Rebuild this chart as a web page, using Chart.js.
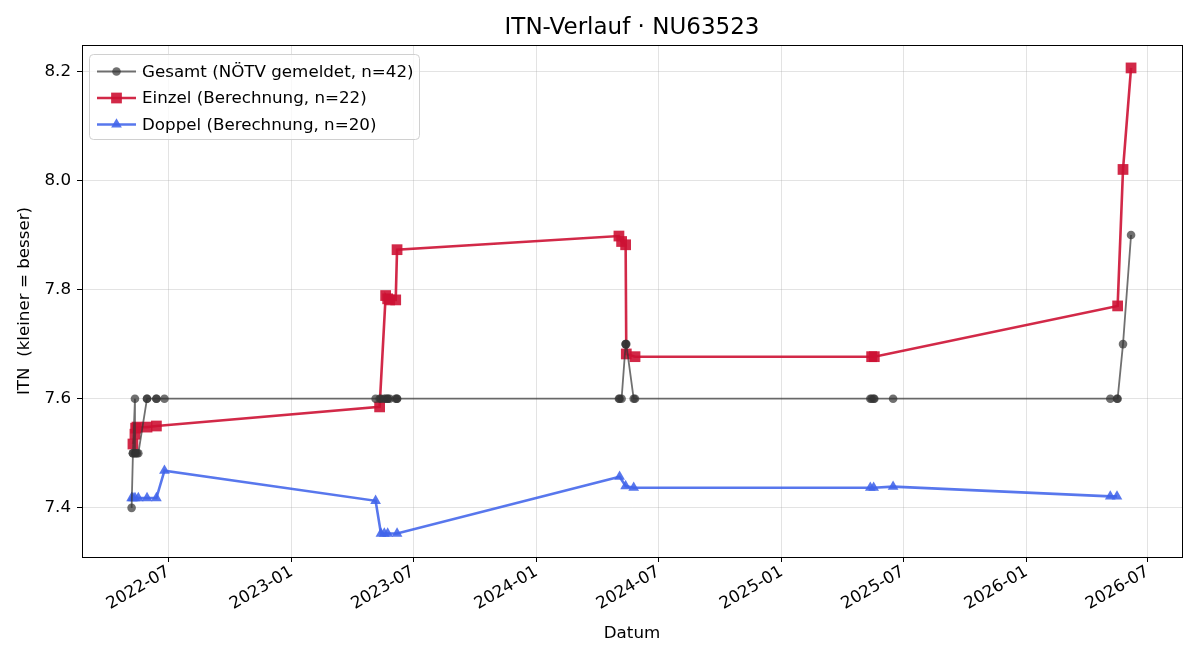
<!DOCTYPE html>
<html>
<head>
<meta charset="utf-8">
<script src="https://cdn.jsdelivr.net/npm/chart.js@4/dist/chart.umd.min.js"></script>
<style>
  html, body { margin: 0; padding: 0; background: #fff; }
  #wrap { width: 1200px; height: 660px; }
</style>
</head>
<body>
<div id="wrap"><canvas id="itnChart" width="1200" height="660"></canvas></div>
<script>
const chartTitle = "ITN-Verlauf · NU63523";

// Gesamt (NÖTV gemeldet)
const gesamtDates = [
    "2022-05-07", "2022-05-09", "2022-05-09", "2022-05-12", "2022-05-12", "2022-05-13", "2022-05-15",
    "2022-05-17", "2022-05-30", "2022-05-30", "2022-06-13", "2022-06-13", "2022-06-25",
    "2023-05-06", "2023-05-12", "2023-05-14", "2023-05-19", "2023-05-21", "2023-05-24", "2023-05-24",
    "2023-05-27", "2023-06-05", "2023-06-07", "2023-06-07",
    "2024-05-03", "2024-05-04", "2024-05-07", "2024-05-13", "2024-05-13", "2024-05-14", "2024-05-25", "2024-05-27",
    "2025-05-13", "2025-05-15", "2025-05-18", "2025-05-19", "2025-06-16",
    "2026-05-06", "2026-05-16", "2026-05-17", "2026-05-25", "2026-06-06"
];
const gesamtValues = [
    7.4, 7.5, 7.5, 7.6, 7.5, 7.5, 7.5,
    7.5, 7.6, 7.6, 7.6, 7.6, 7.6,
    7.6, 7.6, 7.6, 7.6, 7.6, 7.6, 7.6,
    7.6, 7.6, 7.6, 7.6,
    7.6, 7.6, 7.6, 7.7, 7.7, 7.7, 7.6, 7.6,
    7.6, 7.6, 7.6, 7.6, 7.6,
    7.6, 7.6, 7.6, 7.7, 7.9
];

// Einzel (Berechnung)
const einzelDates = [
    "2022-05-09", "2022-05-12", "2022-05-13", "2022-05-15", "2022-05-30", "2022-06-13",
    "2023-05-12", "2023-05-21", "2023-05-24", "2023-05-27", "2023-06-05", "2023-06-07",
    "2024-05-03", "2024-05-07", "2024-05-13", "2024-05-14", "2024-05-27",
    "2025-05-15", "2025-05-19",
    "2026-05-17", "2026-05-25", "2026-06-06"
];
const einzelValues = [
    7.517, 7.535, 7.546, 7.548, 7.548, 7.550,
    7.585, 7.789, 7.783, 7.781, 7.781, 7.873,
    7.898, 7.888, 7.882, 7.682, 7.677,
    7.677, 7.677,
    7.770, 8.020, 8.206
];

// Doppel (Berechnung)
const doppelDates = [
    "2022-05-07", "2022-05-09", "2022-05-12", "2022-05-17", "2022-05-30", "2022-06-13", "2022-06-25",
    "2023-05-06", "2023-05-14", "2023-05-19", "2023-05-24", "2023-06-07",
    "2024-05-04", "2024-05-13", "2024-05-25",
    "2025-05-13", "2025-05-18", "2025-06-16",
    "2026-05-06", "2026-05-16"
];
const doppelValues = [
    7.418, 7.418, 7.418, 7.418, 7.418, 7.418, 7.468,
    7.413, 7.353, 7.353, 7.353, 7.353,
    7.457, 7.440, 7.437,
    7.437, 7.437, 7.439,
    7.421, 7.421
];

const xTickLabels = ["2022-07", "2023-01", "2023-07", "2024-01", "2024-07", "2025-01", "2025-07", "2026-01", "2026-07"];
const yTickValues = [7.4, 7.6, 7.8, 8.0, 8.2];
const xRange = ["2022-02-22", "2026-08-21"];
const yRange = [7.31, 8.248];

const legendLabels = ["Gesamt (NÖTV gemeldet, n=42)", "Einzel (Berechnung, n=22)", "Doppel (Berechnung, n=20)"];

const FONT = "'DejaVu Sans', sans-serif";
const GRAY = "rgba(51,51,51,0.7)";
const RED = "rgba(205,18,52,0.9)";
const BLUE = "rgba(65,100,235,0.88)";

function toMs(d) {
    const p = d.split("-").map(Number);
    return Date.UTC(p[0], p[1] - 1, p[2] || 1);
}
function fmtMonth(ms) {
    const d = new Date(ms);
    return d.getUTCFullYear() + "-" + String(d.getUTCMonth() + 1).padStart(2, "0");
}
function toPoints(dates, values) {
    return dates.map((d, i) => ({ x: toMs(d), y: values[i] }));
}

const series = [
    { label: legendLabels[0], data: toPoints(gesamtDates, gesamtValues), color: GRAY, width: 1.8, style: "circle", radius: 4.3 },
    { label: legendLabels[1], data: toPoints(einzelDates, einzelValues), color: RED, width: 2.6, style: "rect", radius: 7.6 },
    { label: legendLabels[2], data: toPoints(doppelDates, doppelValues), color: BLUE, width: 2.6, style: "triangle", radius: 6.2 }
];

// title over the plot area, frame around it, legend box in upper left
const framePlugin = {
    id: "frame",
    afterDraw(chart) {
        const ctx = chart.ctx;
        const a = chart.chartArea;
        ctx.save();
        ctx.fillStyle = "#000";
        ctx.font = "23px " + FONT;
        ctx.textAlign = "center";
        ctx.textBaseline = "middle";
        ctx.fillText(chartTitle, (a.left + a.right) / 2, 28);
        ctx.textAlign = "left";

        ctx.strokeStyle = "#000";
        ctx.lineWidth = 1;
        ctx.strokeRect(Math.round(a.left) + 0.5, Math.round(a.top) + 0.5, Math.round(a.right - a.left), Math.round(a.bottom - a.top));

        // legend
        const bx = a.left + 7, by = a.top + 9, bw = 330, bh = 85;
        ctx.beginPath();
        ctx.roundRect(bx + 0.5, by + 0.5, bw, bh, 4);
        ctx.fillStyle = "rgba(255,255,255,0.8)";
        ctx.fill();
        ctx.strokeStyle = "#d0d0d0";
        ctx.stroke();
        ctx.font = "16.7px " + FONT;
        ctx.textBaseline = "middle";
        series.forEach((s, i) => {
            const y = by + 17.5 + i * 26.5;
            ctx.strokeStyle = s.color;
            ctx.lineWidth = s.width;
            ctx.beginPath();
            ctx.moveTo(bx + 8, y);
            ctx.lineTo(bx + 47, y);
            ctx.stroke();
            ctx.fillStyle = s.color;
            Chart.helpers.drawPoint(ctx, { pointStyle: s.style, radius: s.radius, borderWidth: 0 }, bx + 27.5, y);
            ctx.fillStyle = "#000";
            ctx.fillText(s.label, bx + 53, y + 1);
        });
        ctx.restore();
    }
};

new Chart(document.getElementById("itnChart").getContext("2d"), {
    type: "line",
    data: {
        datasets: series.map(s => ({
            label: s.label,
            data: s.data,
            borderColor: s.color,
            backgroundColor: s.color,
            borderWidth: s.width,
            pointStyle: s.style,
            pointRadius: s.radius,
            pointBorderWidth: 0,
            pointBackgroundColor: s.color,
            tension: 0,
            fill: false
        }))
    },
    options: {
        responsive: false,
        animation: false,
        layout: { padding: { left: 0, right: 18, top: 45, bottom: 0 } },
        plugins: {
            legend: { display: false },
            tooltip: { enabled: false },
            title: { display: false }
        },
        scales: {
            x: {
                type: "linear",
                min: toMs(xRange[0]),
                max: toMs(xRange[1]),
                afterBuildTicks: scale => { scale.ticks = xTickLabels.map(t => ({ value: toMs(t) })); },
                afterFit: scale => { scale.height = 103; },
                border: { color: "#000", width: 1 },
                grid: { color: "rgba(176,176,176,0.35)", tickColor: "#000", tickLength: 5 },
                ticks: {
                    color: "#000",
                    font: { family: FONT, size: 16.7 },
                    minRotation: 30,
                    maxRotation: 30,
                    padding: 0,
                    autoSkip: false,
                    callback: v => fmtMonth(v)
                },
                title: {
                    display: true,
                    text: "Datum",
                    color: "#000",
                    font: { family: FONT, size: 16.7 },
                    padding: { top: 4, bottom: 16 }
                }
            },
            y: {
                min: yRange[0],
                max: yRange[1],
                afterBuildTicks: scale => { scale.ticks = yTickValues.map(v => ({ value: v })); },
                afterFit: scale => { scale.width = 82; },
                border: { color: "#000", width: 1 },
                grid: { color: "rgba(176,176,176,0.35)", tickColor: "#000", tickLength: 5 },
                ticks: {
                    color: "#000",
                    font: { family: FONT, size: 16.7 },
                    padding: 6,
                    callback: v => v.toFixed(1)
                },
                title: {
                    display: true,
                    text: "ITN  (kleiner = besser)",
                    color: "#000",
                    font: { family: FONT, size: 16.7 },
                    padding: { top: 15, bottom: 4 }
                }
            }
        }
    },
    plugins: [framePlugin]
});
</script>
</body>
</html>
